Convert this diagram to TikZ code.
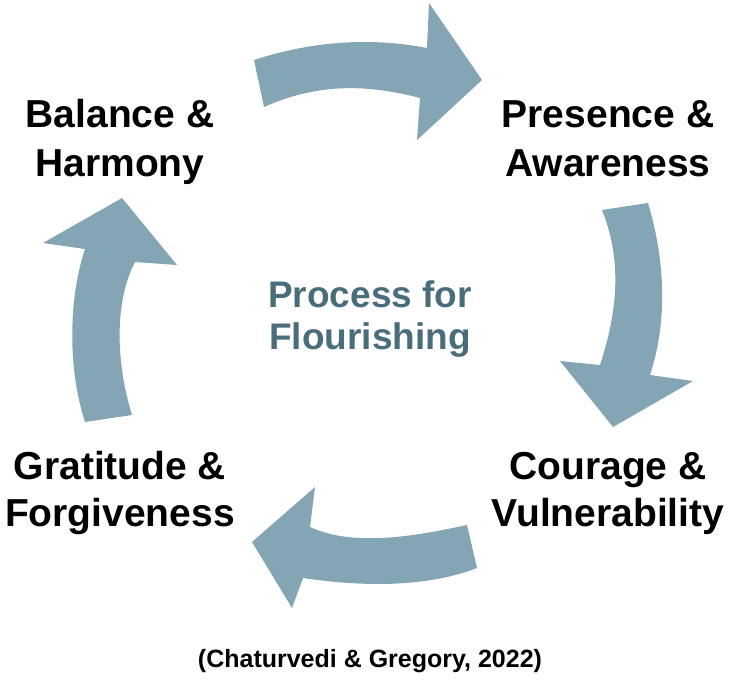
\documentclass[tikz,border=0pt]{standalone}
\usepackage{fontspec}
\setmainfont{Liberation Sans}
\definecolor{arrowblue}{HTML}{83A5B4}
\definecolor{textblue}{HTML}{4A6D7C}

\begin{document}
\begin{tikzpicture}[x=1pt, y=-1pt, l/.style={anchor=base, font=\bfseries\fontsize{39}{47}\selectfont}, m/.style={anchor=base, text=textblue, font=\bfseries\fontsize{37}{42}\selectfont}, a/.style={fill=arrowblue, draw=none}]
		\useasboundingbox (0,0) rectangle (736,685);

		\node[l] (B1) at (120,127) {Balance \&};
		\node[l] (B2) at (120,176) {Harmony};
		\node[l] (P1) at (608,127) {Presence \&};
		\node[l] (P2) at (608,176) {Awareness};
		\node[l] (C1) at (608,479) {Courage \&};
		\node[l] (C2) at (608,526) {Vulnerability};
		\node[l] (G1) at (120,479) {Gratitude \&};
		\node[l] (G2) at (120,526) {Forgiveness};
		\node[m] (M1) at (370,307) {Process for};
		\node[m] (M2) at (370,349) {Flourishing};
		\node[anchor=base, font=\bfseries\fontsize{25}{29}\selectfont] (cite) at (370,667) {(Chaturvedi \& Gregory, 2022)};

		% top
		\path[a] (254,60) .. controls (300,45) and (360,35) .. (427,48) -- (429,3) -- (482,80) -- (417,140) -- (420,98)
			.. controls (370,85) and (320,82) .. (264,107) -- cycle;
		% right
		\path[a] (602,210) -- (648,203) .. controls (665,260) and (668,320) .. (650,375) -- (693,381) -- (613,427) -- (560,361) -- (600,365)
			.. controls (618,310) and (622,260) .. (602,210) -- cycle;
		% bottom
		\path[a] (467,525) .. controls (420,535) and (355,548) .. (310,527) -- (315,487) -- (252,542) -- (292,608) -- (303,578)
			.. controls (350,585) and (420,590) .. (477,568) -- cycle;
		% left
		\path[a] (85,422) -- (132,415) .. controls (115,360) and (115,300) .. (135,262) -- (177,265) -- (122,198) -- (43,243) -- (85,249)
			.. controls (68,300) and (68,370) .. (85,422) -- cycle;
	\end{tikzpicture}
\end{document}
